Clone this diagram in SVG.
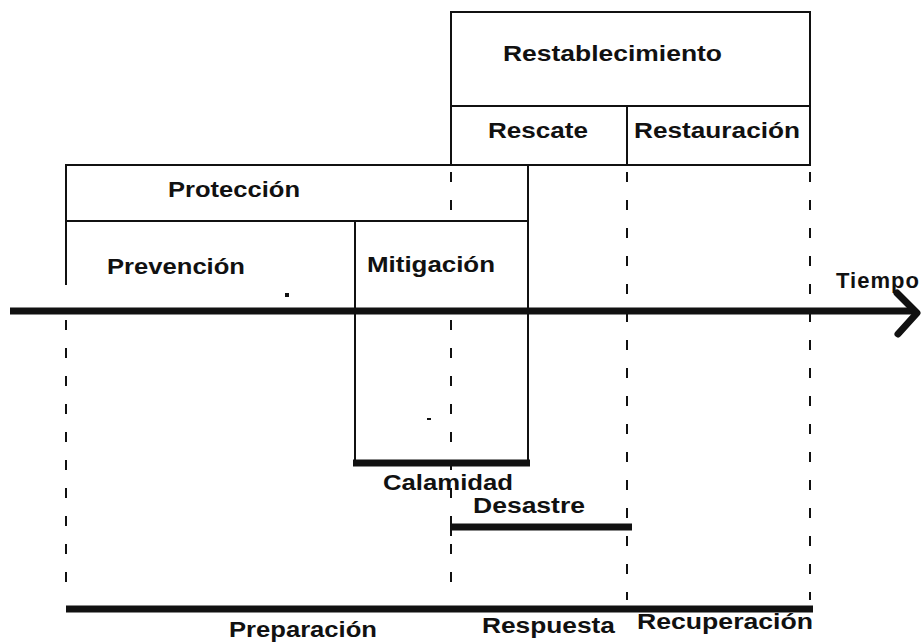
<svg xmlns="http://www.w3.org/2000/svg" width="922" height="643" viewBox="0 0 922 643">
<style>
.ln{stroke:#111;stroke-width:2;fill:none}
.dash{stroke:#111;stroke-width:2;fill:none;stroke-dasharray:10 18}
.bar{stroke:#111;stroke-width:7;fill:none}
.t{font-family:"Liberation Sans",Arial,sans-serif;font-weight:bold;font-size:22px;fill:#111}
</style>
<rect width="922" height="643" fill="#fff"/>
<g id="restablecimiento">
<rect class="ln" x="451" y="12" width="359" height="94"/>
<text class="t" x="503" y="61" textLength="219" lengthAdjust="spacingAndGlyphs">Restablecimiento</text>
</g>
<g id="rescate">
<rect class="ln" x="451" y="106" width="176" height="59"/>
<text class="t" x="488" y="138" textLength="100" lengthAdjust="spacingAndGlyphs">Rescate</text>
</g>
<g id="restauracion">
<rect class="ln" x="627" y="106" width="183" height="59"/>
<text class="t" x="634" y="138" textLength="166" lengthAdjust="spacingAndGlyphs">Restauración</text>
</g>
<g id="proteccion">
<path class="ln" d="M66,285 V165 H528 V221 M66,221 H528"/>
<text class="t" x="168" y="197" textLength="132" lengthAdjust="spacingAndGlyphs">Protección</text>
</g>
<g id="prevencion">
<text class="t" x="107" y="274" textLength="138" lengthAdjust="spacingAndGlyphs">Prevención</text>
<rect x="285" y="293" width="4" height="4" fill="#111"/>
</g>
<g id="mitigacion">
<path class="ln" d="M355,221 V463 M528,221 V463"/>
<text class="t" x="367" y="272" textLength="128" lengthAdjust="spacingAndGlyphs">Mitigación</text>
<rect x="427" y="418" width="4" height="2" fill="#111"/>
</g>
<g id="calamidad">
<path class="bar" d="M353,463 H530" stroke-width="6"/>
<text class="t" x="383" y="490" textLength="130" lengthAdjust="spacingAndGlyphs">Calamidad</text>
</g>
<g id="desastre">
<path class="bar" d="M451,527 H632" stroke-width="6"/>
<path class="ln" d="M451,518 V536"/>
<text class="t" x="473" y="513" textLength="112" lengthAdjust="spacingAndGlyphs">Desastre</text>
</g>
<g id="preparacion">
<text class="t" x="229" y="637" textLength="148" lengthAdjust="spacingAndGlyphs">Preparación</text>
</g>
<g id="respuesta">
<text class="t" x="482" y="633" textLength="133" lengthAdjust="spacingAndGlyphs">Respuesta</text>
</g>
<g id="recuperacion">
<text class="t" x="637" y="629" textLength="176" lengthAdjust="spacingAndGlyphs">Recuperación</text>
</g>
<g id="tiempo">
<text class="t" x="836" y="288" letter-spacing="1">Tiempo</text>
</g>
<g id="connectors">
<path class="dash" d="M66,320 V600"/>
<path class="dash" d="M451,172 V215"/>
<path class="dash" d="M451,320 V600"/>
<path class="dash" d="M627,172 V600"/>
<path class="dash" d="M810,172 V600"/>
<path class="bar" d="M10,311 H915"/>
<path d="M897,293 L917,313 L898,334" fill="none" stroke="#111" stroke-width="7" stroke-linecap="round" stroke-linejoin="round"/>
<path class="bar" d="M66,609 H813" stroke-width="8"/>
</g>
</svg>
